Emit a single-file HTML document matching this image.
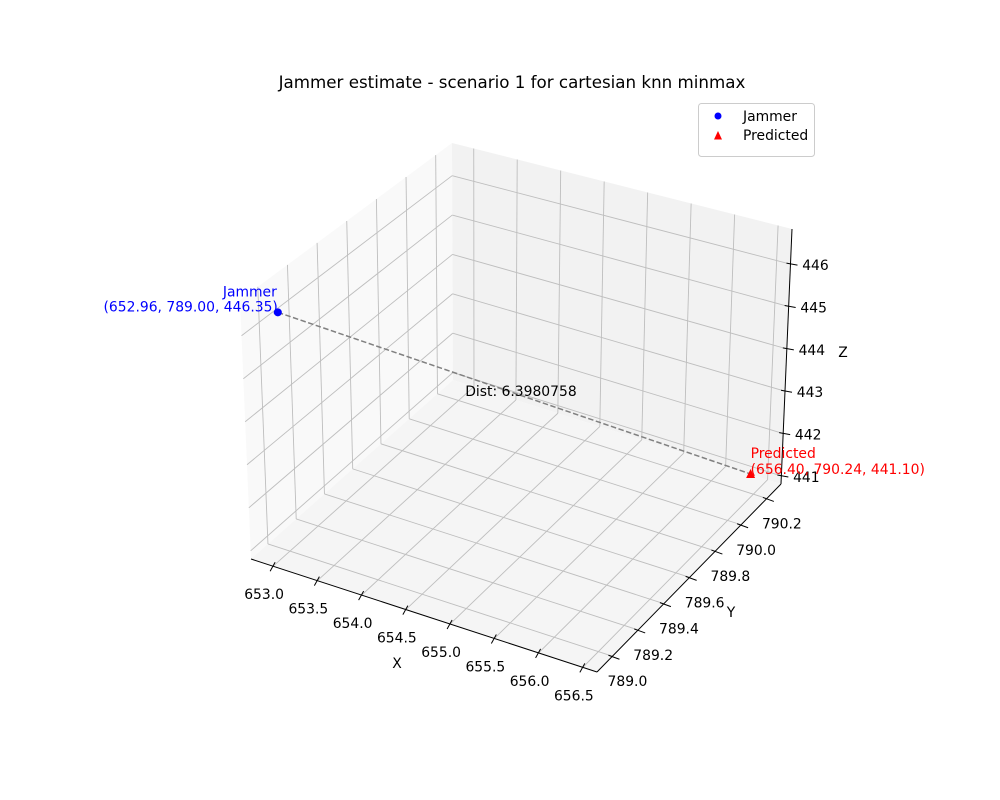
<!DOCTYPE html>
<html><head><meta charset="utf-8">
<style>
html,body{margin:0;padding:0;background:#fff;}
svg{display:block;font-family:"DejaVu Sans","Liberation Sans",sans-serif;}
</style></head>
<body>
<svg id="chart" width="1000" height="800" viewBox="0 0 1000 800"></svg>
<script>
// ---- data ----
const jammerPoint = [652.96, 789.00, 446.35];
const predictedPoint = [656.40, 790.24, 441.10];
const distValue = "6.3980758";
const xTicks = [653.0, 653.5, 654.0, 654.5, 655.0, 655.5, 656.0, 656.5];
const xTickLabels = ["653.0","653.5","654.0","654.5","655.0","655.5","656.0","656.5"];
const yTicks = [789.0, 789.2, 789.4, 789.6, 789.8, 790.0, 790.2];
const yTickLabels = ["789.0","789.2","789.4","789.6","789.8","790.0","790.2"];
const zTicks = [441, 442, 443, 444, 445, 446];
const zTickLabels = ["441","442","443","444","445","446"];
const xLim = [652.75, 656.66];
const yLim = [788.88, 790.31];
const zLim = [440.81, 446.83];

// screen corners of the box: index [xi][yi][zi]
const C = {
  "000":[251,559], "001":[240,300],
  "100":[597,672], "101":[601,392],
  "010":[453,380], "011":[452,143],
  "110":[781,484], "111":[792,229]
};
function lerp(a,b,t){return [a[0]+(b[0]-a[0])*t, a[1]+(b[1]-a[1])*t];}
function proj(x,y,z){
  const u=(x-xLim[0])/(xLim[1]-xLim[0]);
  const v=(y-yLim[0])/(yLim[1]-yLim[0]);
  const w=(z-zLim[0])/(zLim[1]-zLim[0]);
  const c00=lerp(C["000"],C["100"],u), c10=lerp(C["010"],C["110"],u);
  const c01=lerp(C["001"],C["101"],u), c11=lerp(C["011"],C["111"],u);
  const b=lerp(c00,c10,v), t=lerp(c01,c11,v);
  return lerp(b,t,w);
}
const svg=document.getElementById('chart');
const NS="http://www.w3.org/2000/svg";
function mk(tag,attrs,parent){const e=document.createElementNS(NS,tag);for(const k in attrs)e.setAttribute(k,attrs[k]);(parent||svg).appendChild(e);return e;}
function pts(arr){return arr.map(p=>p[0].toFixed(1)+","+p[1].toFixed(1)).join(" ");}
const [x0,x1]=xLim,[y0,y1]=yLim,[z0,z1]=zLim;

// panes
let p;
p=mk('polygon',{points:pts([proj(x0,y0,z0),proj(x0,y1,z0),proj(x0,y1,z1),proj(x0,y0,z1)]),fill:'#f9f9f9'});


p=mk('polygon',{points:pts([proj(x0,y1,z0),proj(x1,y1,z0),proj(x1,y1,z1),proj(x0,y1,z1)]),fill:'#f2f2f2'});


p=mk('polygon',{points:pts([proj(x0,y0,z0),proj(x1,y0,z0),proj(x1,y1,z0),proj(x0,y1,z0)]),fill:'#f5f5f5'});



// gridlines
const g=mk('g',{stroke:'#bebebe','stroke-width':0.9,fill:'none'});


function line(a,b,parent,attrs){const o=Object.assign({x1:a[0],y1:a[1],x2:b[0],y2:b[1]},attrs||{});return mk('line',o,parent);}
xTicks.forEach(x=>{ line(proj(x,y0,z0),proj(x,y1,z0),g); line(proj(x,y1,z0),proj(x,y1,z1),g); });
yTicks.forEach(y=>{ line(proj(x0,y,z0),proj(x1,y,z0),g); line(proj(x0,y,z0),proj(x0,y,z1),g); });
zTicks.forEach(z=>{ line(proj(x0,y0,z),proj(x0,y1,z),g); line(proj(x0,y1,z),proj(x1,y1,z),g); });

// axis lines
const ax=mk('g',{stroke:'#000','stroke-width':1});


line(proj(x0,y0,z0),proj(x1,y0,z0),ax);
line(proj(x1,y0,z0),proj(x1,y1,z0),ax);
line(proj(x1,y1,z0),proj(x1,y1,z1),ax);

function txt(s,x,y,attrs){const t=mk('text',Object.assign({x:x,y:y,'font-size':13.9,fill:'#000'},attrs||{}));t.textContent=s;return t;}
// x ticks
xTicks.forEach((x,i)=>{
  const a=proj(x,y0,z0);
  line([a[0]+2,a[1]-4],[a[0]-3,a[1]+5],ax);
  const t=txt(xTickLabels[i],a[0]-9,a[1]+33,{'text-anchor':'middle'});
  
  
});
yTicks.forEach((y,i)=>{
  const a=proj(x1,y,z0);
  line([a[0]-4,a[1]-1],[a[0]+7,a[1]+3],ax);
  const t=txt(yTickLabels[i],a[0]+15,a[1]+30,{'text-anchor':'middle'});
  
  
});
zTicks.forEach((z,i)=>{
  const a=proj(x1,y1,z);
  line([a[0]-4,a[1]-1],[a[0]+7,a[1]+1],ax);
  const t=txt(zTickLabels[i],a[0]+25,a[1]+6,{'text-anchor':'middle'});
  
  
});
let t;
t=txt('X',397,668,{'text-anchor':'middle'});


t=txt('Y',731,617,{'text-anchor':'middle'});


t=txt('Z',843,357,{'text-anchor':'middle'});



// data
const J=proj(jammerPoint[0],jammerPoint[1],jammerPoint[2]);
const P=proj(predictedPoint[0],predictedPoint[1],predictedPoint[2]);
const dl=line(J,P,svg,{stroke:'#808080','stroke-width':1.5,'stroke-dasharray':'5.5,2.5'});


const jm=mk('circle',{cx:J[0],cy:J[1],r:4,fill:'#0000ff'});


const pm=mk('polygon',{points:pts([[P[0],P[1]-5],[P[0]+4.5,P[1]+4],[P[0]-4.5,P[1]+4]]),fill:'#ff0000'});



const f2=v=>v.toFixed(2);
t=txt('Jammer',J[0]-1,J[1]-16,{'text-anchor':'end',fill:'#0000ff'});


t=txt('('+jammerPoint.map(f2).join(', ')+')',J[0],J[1]-1,{'text-anchor':'end',fill:'#0000ff'});


t=txt('Predicted',P[0],P[1]-16,{fill:'#ff0000'});


t=txt('('+predictedPoint.map(f2).join(', ')+')',P[0],P[1]-0,{fill:'#ff0000'});


t=txt('Dist: '+distValue,(J[0]+P[0])/2-49,(J[1]+P[1])/2+3);



// title
t=txt('Jammer estimate - scenario 1 for cartesian knn minmax',512,88,{'text-anchor':'middle','font-size':16.7});



// legend
const lg=mk('g',{});


mk('rect',{x:698.5,y:103.5,width:116,height:53,rx:3,fill:'#fff','fill-opacity':0.8,stroke:'#cccccc'},lg);
const l1=mk('circle',{cx:718,cy:116,r:3.5,fill:'#0000ff'},lg);


const l2=mk('polygon',{points:'718,131 722,139.5 714,139.5',fill:'#ff0000'},lg);


const lt1=txt('Jammer',743,121,{});lg.appendChild(lt1);


const lt2=txt('Predicted',743,140,{});lg.appendChild(lt2);


</script>
</body></html>
